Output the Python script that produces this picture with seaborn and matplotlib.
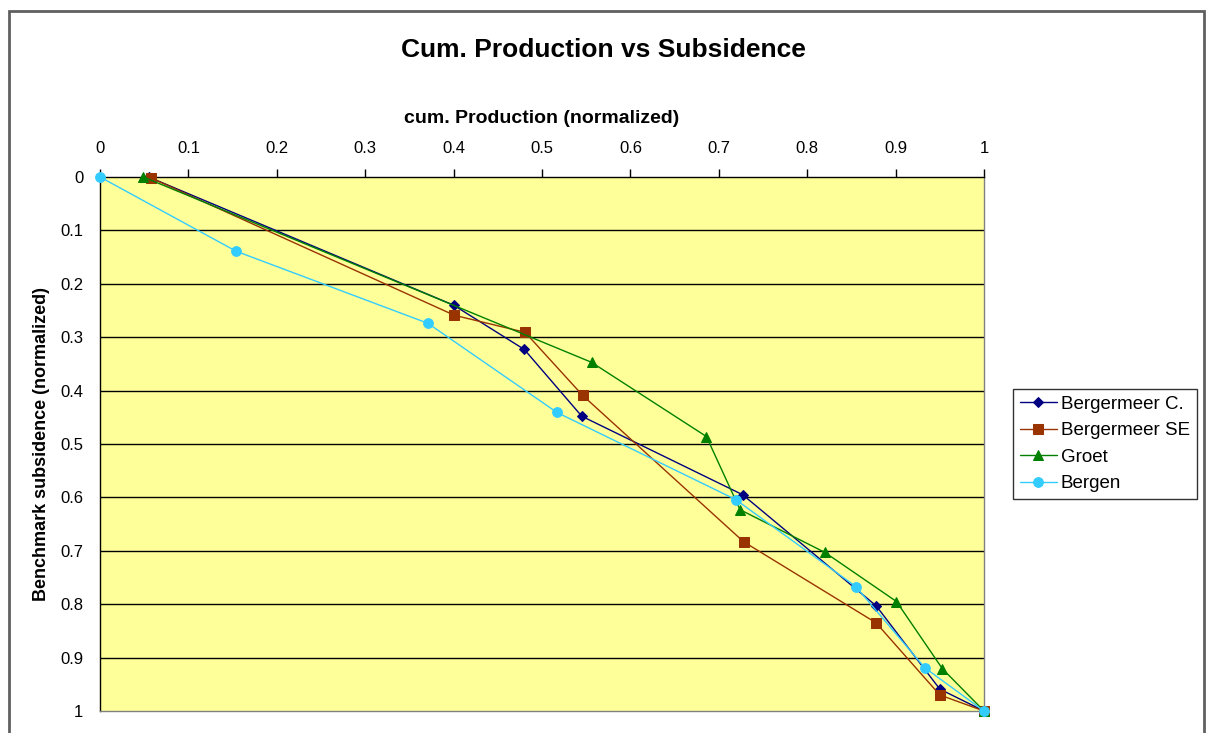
import pandas as pd
import seaborn as sns
import matplotlib.pyplot as plt
from matplotlib.patches import Rectangle

# values
series_names = ["Bergermeer C.", "Bergermeer SE", "Groet", "Bergen"]

berg_c_x = [0.055, 0.400, 0.480, 0.545, 0.727, 0.878, 0.950, 1.0]
berg_c_y = [0.000, 0.240, 0.323, 0.448, 0.595, 0.803, 0.959, 1.0]

berg_se_x = [0.058, 0.401, 0.481, 0.546, 0.728, 0.878, 0.950, 1.0]
berg_se_y = [0.002, 0.259, 0.291, 0.409, 0.683, 0.835, 0.970, 1.0]

groet_x = [0.049, 0.556, 0.686, 0.724, 0.820, 0.901, 0.953, 1.0]
groet_y = [0.000, 0.347, 0.486, 0.623, 0.703, 0.795, 0.921, 1.0]

bergen_x = [0.0, 0.154, 0.371, 0.517, 0.719, 0.855, 0.933, 1.0]
bergen_y = [0.0, 0.139, 0.274, 0.441, 0.604, 0.767, 0.919, 1.0]

x_ticks = [0, 0.1, 0.2, 0.3, 0.4, 0.5, 0.6, 0.7, 0.8, 0.9, 1]
x_tick_labels = ["0", "0.1", "0.2", "0.3", "0.4", "0.5", "0.6", "0.7", "0.8", "0.9", "1"]

colors = {"Bergermeer C.": "#000080", "Bergermeer SE": "#993300",
          "Groet": "#008000", "Bergen": "#33CCFF"}
markers = {"Bergermeer C.": "D", "Bergermeer SE": "s", "Groet": "^", "Bergen": "o"}
msizes = {"Bergermeer C.": 5, "Bergermeer SE": 7, "Groet": 7, "Bergen": 7}

frames = []
for name, xs, ys in zip(series_names,
                        [berg_c_x, berg_se_x, groet_x, bergen_x],
                        [berg_c_y, berg_se_y, groet_y, bergen_y]):
    frames.append(pd.DataFrame({"x": xs, "y": ys, "series": name}))
df = pd.concat(frames, ignore_index=True)

sns.set_style("white")
plt.rcParams["font.family"] = ["Liberation Sans", "DejaVu Sans"]
plt.rcParams["text.color"] = "black"
plt.rcParams["axes.labelcolor"] = "black"
plt.rcParams["xtick.color"] = "black"
plt.rcParams["ytick.color"] = "black"

fig = plt.figure(figsize=(12.06, 7.33), dpi=100)
ax = fig.add_axes([100 / 1206, 1 - 711 / 733, 884 / 1206, 534 / 733])
ax.set_facecolor("#FFFF99")

for name in series_names:
    sub = df[df["series"] == name]
    sns.lineplot(data=sub, x="x", y="y", ax=ax, sort=False, color=colors[name],
                 marker=markers[name], markersize=msizes[name],
                 markeredgecolor=colors[name], linewidth=1, label=name,
                 clip_on=False, zorder=3)

ax.set_xlim(0, 1)
ax.set_ylim(1, 0)
ax.xaxis.tick_top()
ax.xaxis.set_label_position("top")
ax.set_xticks(x_ticks)
ax.set_xticklabels(x_tick_labels)
ax.set_yticks(x_ticks)
ax.set_yticklabels(x_tick_labels)
ax.tick_params(axis="both", labelsize=12, length=6, width=1, color="black",
               direction="out")
ax.tick_params(axis="x", pad=9)
ax.tick_params(axis="y", pad=6)
ax.grid(False)
for yv in x_ticks[1:-1]:
    ax.axhline(yv, color="black", linewidth=1, zorder=1)

for side in ["top", "left"]:
    ax.spines[side].set_color("black")
    ax.spines[side].set_linewidth(1)
for side in ["bottom", "right"]:
    ax.spines[side].set_color("#808080")
    ax.spines[side].set_linewidth(1)

ax.set_xlabel("cum. Production (normalized)", fontsize=14, fontweight="bold", labelpad=13)
ax.set_ylabel("Benchmark subsidence (normalized)", fontsize=13, fontweight="bold")
ax.yaxis.set_label_coords(-0.057, 0.5)
fig.text(0.5, 1 - 50 / 733, "Cum. Production vs Subsidence", ha="center", va="center",
         fontsize=19, fontweight="bold")

leg = ax.legend(loc="center left", bbox_to_anchor=(913 / 884, 0.5),
                frameon=True, fontsize=13.5, fancybox=False, handlelength=2.0,
                borderpad=0.35, labelspacing=0.5, handletextpad=0.2,
                borderaxespad=0)
leg.get_frame().set_edgecolor("black")
leg.get_frame().set_linewidth(1)

fig.patches.append(Rectangle((9 / 1206, -0.05), 1195 / 1206, 1.05 - 11 / 733,
                             transform=fig.transFigure, fill=False,
                             edgecolor="#606060", linewidth=2))

fig.savefig("out.png", dpi=100)
